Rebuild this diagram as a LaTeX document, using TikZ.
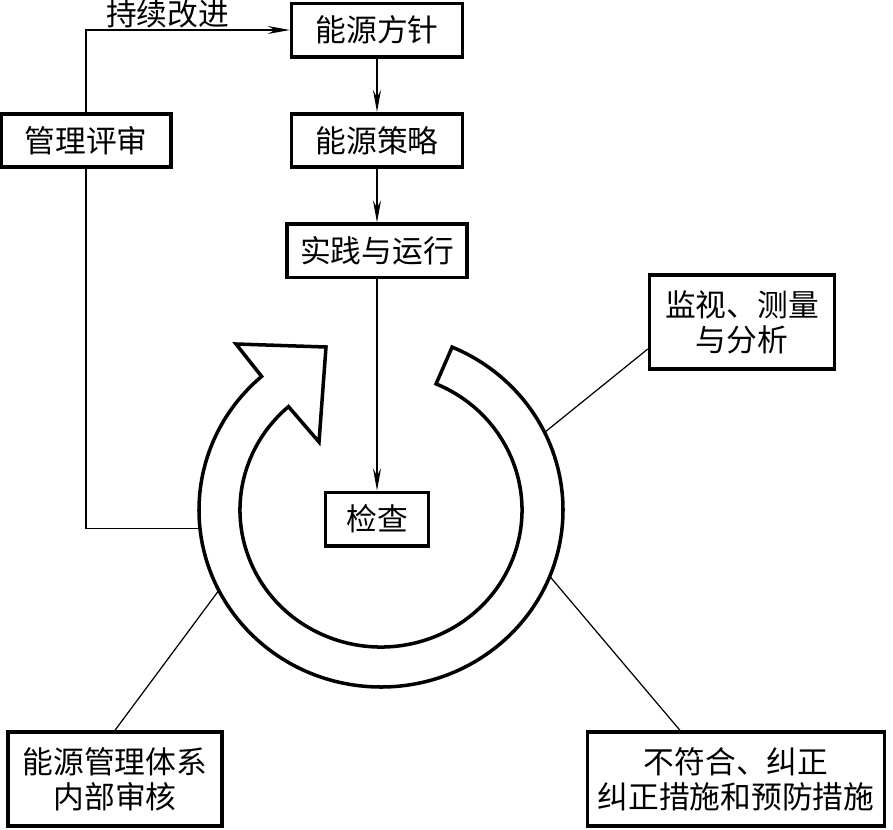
\documentclass[tikz,border=0pt]{standalone}
\usepackage{fontspec}
\setmainfont{Noto Sans CJK SC}
\usetikzlibrary{positioning,arrows.meta}

\begin{document}
\begin{tikzpicture}[x=0.02cm, y=0.02cm, node distance=1.07cm,
  box/.style={draw, line width=2pt, minimum height=1.07cm, inner sep=2pt, align=center, font=\fontsize{17.5}{20}\selectfont},
  link/.style={line width=0.7pt},
  flow/.style={link, -{Stealth[length=4.4mm,width=1.6mm]}},
  ring/.style={line width=2pt, line join=miter, fill=white}]
\useasboundingbox (0,0) rectangle (893,-829);
\node[box, minimum width=3.42cm] (policy) at (377,-30) {能源方针};
\node[box, minimum width=3.42cm, below=of policy] (strategy) {能源策略};
\node[box, minimum width=3.6cm, below=of strategy] (practice) {实践与运行};
\node[box, minimum width=3.4cm, left=2.34cm of strategy] (review) {管理评审};
\node[box, minimum width=2.06cm] (check) at (377,-519) {检查};
\node[box, minimum width=3.7cm, minimum height=1.88cm] (monitor) at (742,-322) {监视、测量\\与分析};
\node[box, minimum width=4.28cm, minimum height=1.88cm] (audit) at (115,-779) {能源管理体系\\内部审核};
\node[box, minimum width=5.94cm, minimum height=1.88cm] (fix) at (736,-779) {不符合、纠正\\纠正措施和预防措施};
\coordinate (c) at (381,-510);
\coordinate (ringW) at ([shift={(186:182 and 177)}]c);
\coordinate (ringNE) at ([shift={(26:182 and 177)}]c);
\coordinate (ringSW) at ([shift={(207:182 and 177)}]c);
\coordinate (ringSE) at ([shift={(-22:182 and 177)}]c);
\draw[flow] (policy) -- (strategy);
\draw[flow] (strategy) -- (practice);
\draw[flow] (practice) -- (check);
\draw[flow] (review) |- node[pos=0.7, above, inner sep=1pt, font=\fontsize{17.5}{20}\selectfont] {持续改进} (policy);
\draw[link] (ringW) -| (review);
\draw[link] (ringNE) -- (monitor.196);
\draw[link] (ringSW) -- (audit.north);
\draw[link] (ringSE) -- (fix.139);
\draw[ring] ([shift={(131:182 and 177)}]c) arc[start angle=131, end angle=427, x radius=182, y radius=177]
  -- ([shift={(67:141 and 137)}]c) arc[start angle=427, end angle=131, x radius=141, y radius=137]
  -- (319,-442) -- (326,-347) -- (236,-344) -- cycle;
\end{tikzpicture}
\end{document}
